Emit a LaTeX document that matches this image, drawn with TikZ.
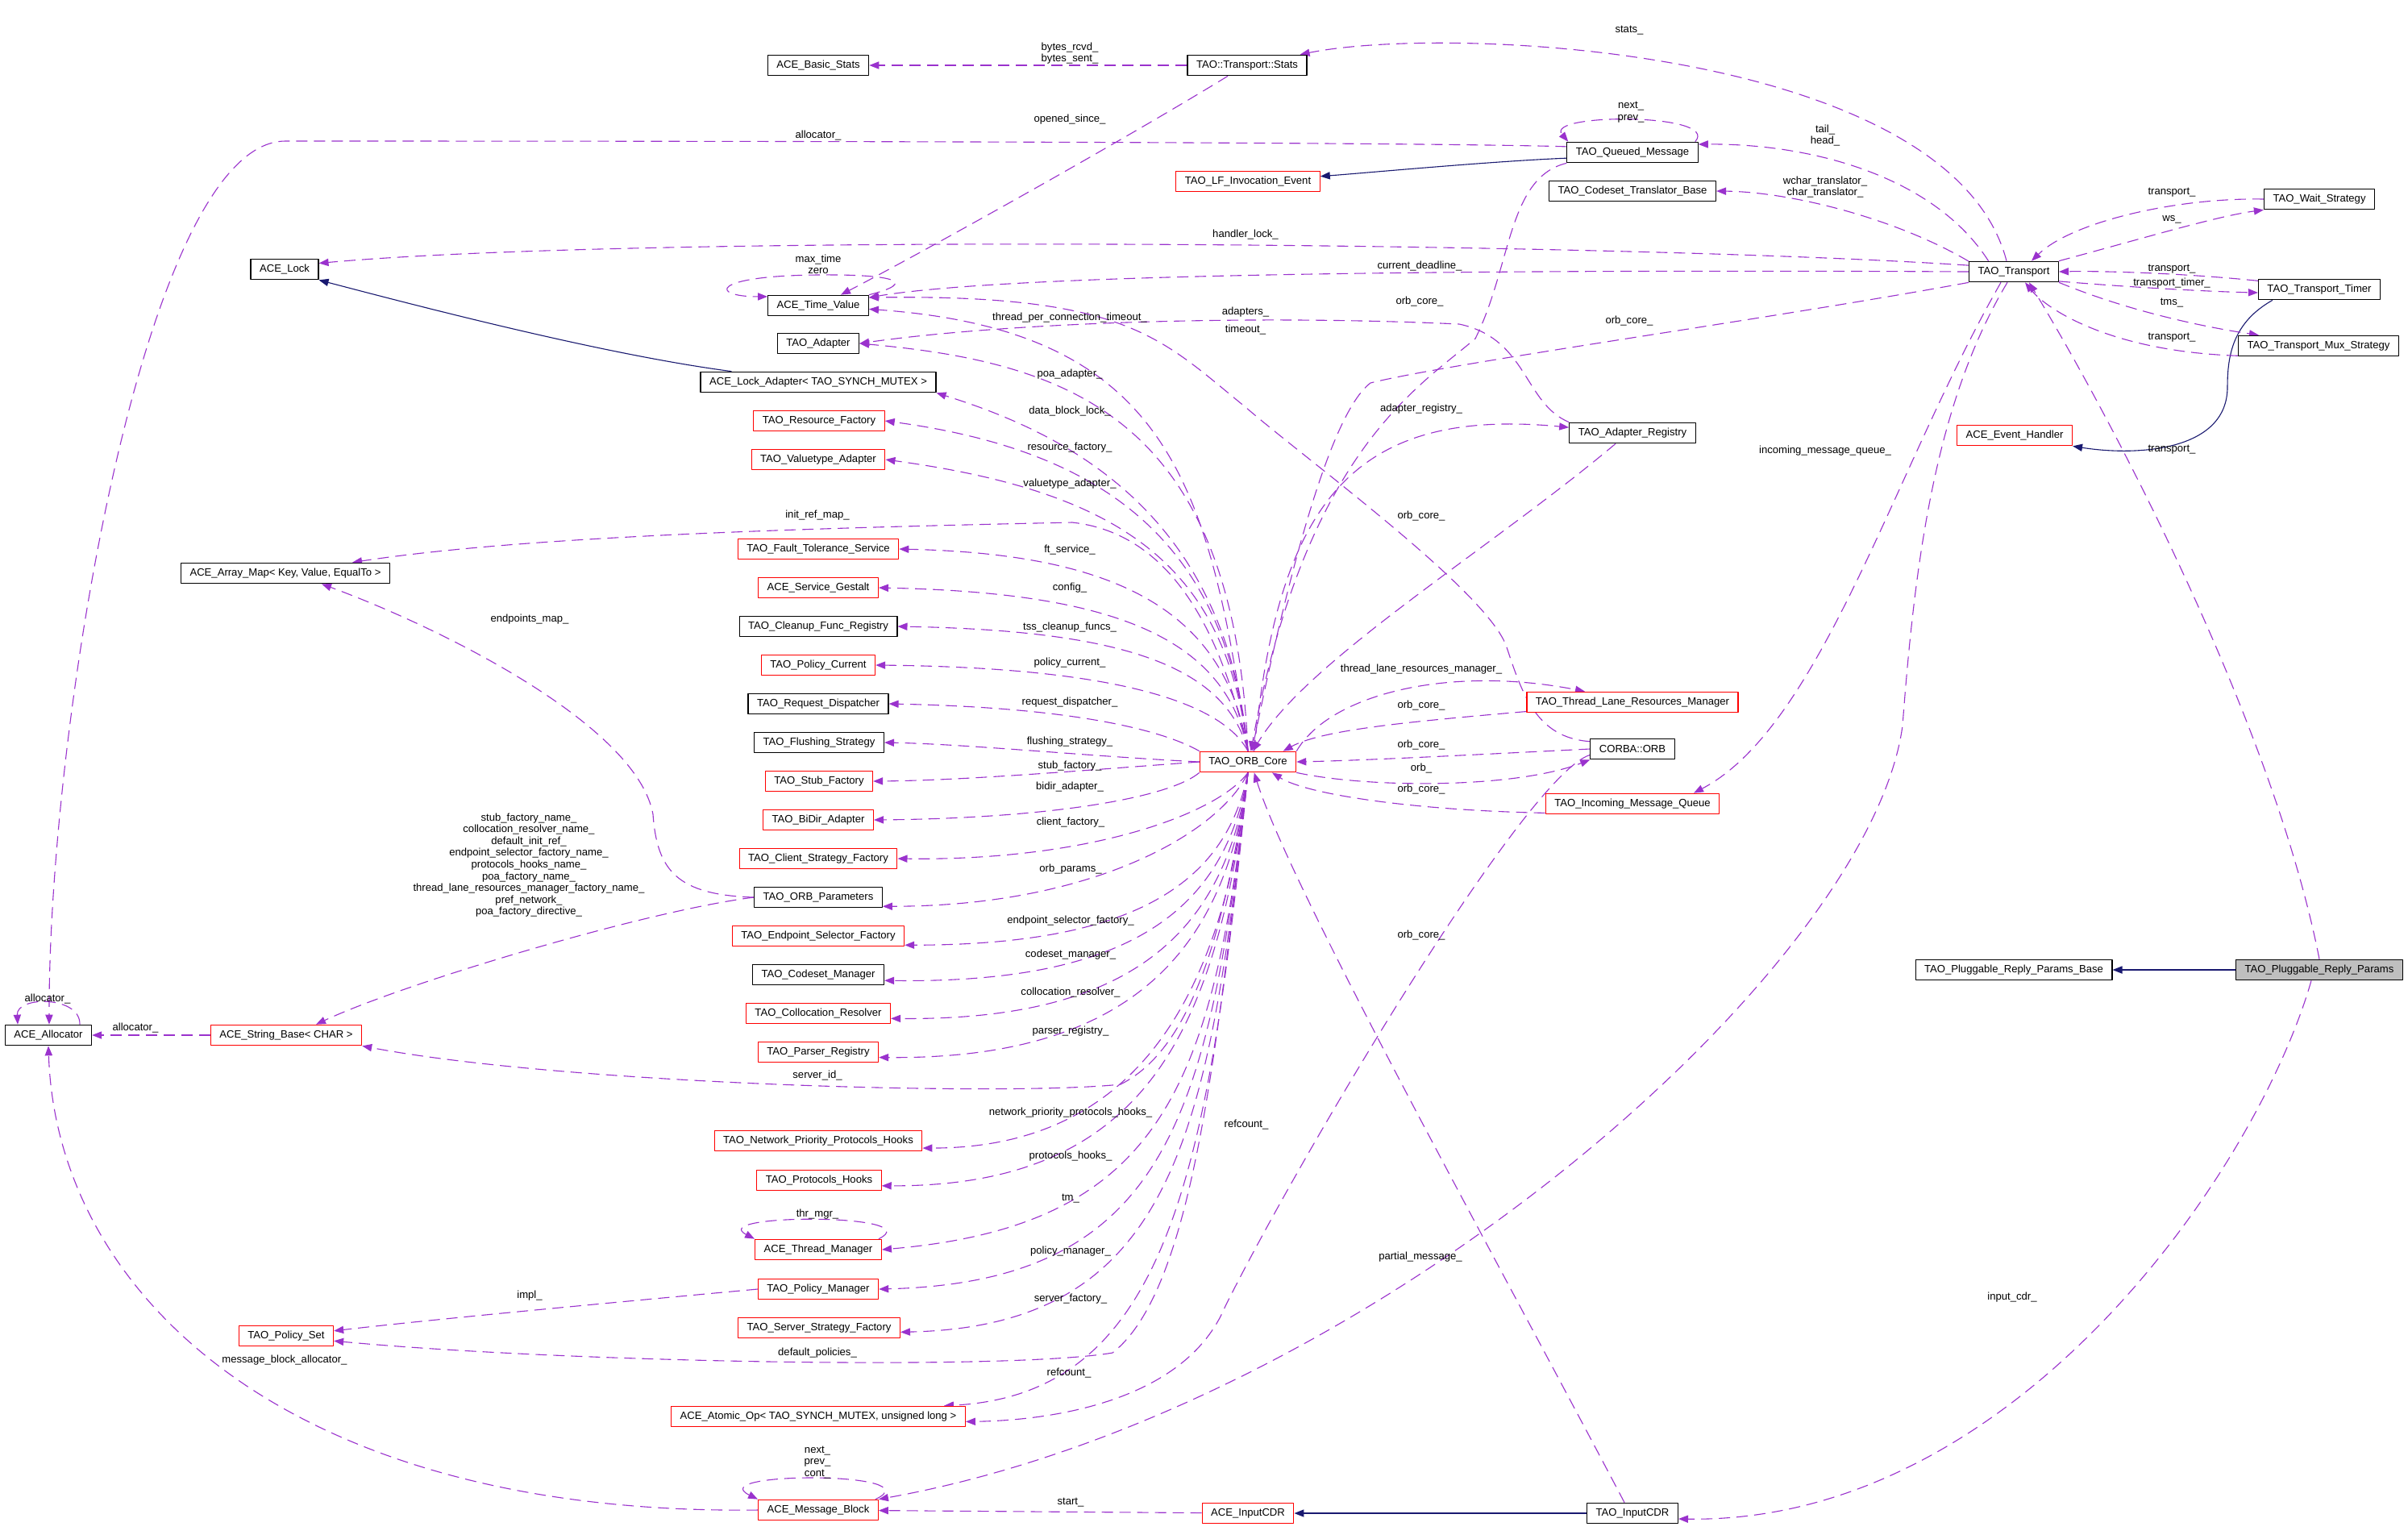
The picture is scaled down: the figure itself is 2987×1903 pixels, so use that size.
\documentclass[tikz,border=0pt]{standalone}
\usepackage{fontspec}
\setmainfont{Liberation Sans}
\usetikzlibrary{arrows.meta}
\pgfdeclarelayer{edges}
\pgfsetlayers{edges,main}
\definecolor{dxPurple}{HTML}{9A32CD}
\definecolor{dxNavy}{HTML}{191970}
\definecolor{dxRed}{HTML}{FF0000}
\definecolor{dxGray}{HTML}{BFBFBF}
\newcommand{\dxfont}{\fontsize{6.55}{7.3}\selectfont}
\tikzset{
 collab/.style={x=.5pt,y=-.5pt,line join=round},
 cls/.style={rectangle,draw=black,fill=white,line width=.6pt,font=\dxfont,inner xsep=5.5pt,inner ysep=0pt,minimum height=12.75pt},
 redcls/.style={cls,draw=dxRed},
 curcls/.style={cls,fill=dxGray},
 member/.style={draw=dxPurple,line width=.55pt,dash pattern=on 7pt off 4pt,-{Triangle[length=6pt,width=4.6pt]}},
 derive/.style={draw=dxNavy,line width=.55pt,-{Triangle[length=6pt,width=4.6pt]}},
 lbl/.style={font=\dxfont,inner sep=0pt,align=center}
}

\begin{document}
\begin{tikzpicture}[collab]
 \useasboundingbox (0,0) rectangle (2987,1903);
 % classes
 \node[cls] (basic) at (1015,81) {ACE\_Basic\_Stats};
 \node[cls] (stats) at (1547,81) {TAO::Transport::Stats};
 \node[cls] (queued) at (2025,189) {TAO\_Queued\_Message};
 \node[redcls] (lfinv) at (1548,225) {TAO\_LF\_Invocation\_Event};
 \node[cls] (transl) at (2025,237) {TAO\_Codeset\_Translator\_Base};
 \node[cls] (waits) at (2877,247) {TAO\_Wait\_Strategy};
 \node[cls] (lock) at (353,334) {ACE\_Lock};
 \node[cls] (transport) at (2498,337) {TAO\_Transport};
 \node[cls] (timer) at (2877,359) {TAO\_Transport\_Timer};
 \node[cls] (time) at (1015,379) {ACE\_Time\_Value};
 \node[cls] (adapter) at (1015,426) {TAO\_Adapter};
 \node[cls] (mux) at (2876,429) {TAO\_Transport\_Mux\_Strategy};
 \node[cls] (lockad) at (1015,474) {ACE\_Lock\_Adapter< TAO\_SYNCH\_MUTEX >};
 \node[redcls] (resfac) at (1016,522) {TAO\_Resource\_Factory};
 \node[cls] (regis) at (2025,537) {TAO\_Adapter\_Registry};
 \node[redcls] (evh) at (2499,540) {ACE\_Event\_Handler};
 \node[redcls] (valtype) at (1015,570) {TAO\_Valuetype\_Adapter};
 \node[redcls] (ftol) at (1015,681) {TAO\_Fault\_Tolerance\_Service};
 \node[cls] (arraymap) at (354,711) {ACE\_Array\_Map< Key, Value, EqualTo >};
 \node[redcls] (gestalt) at (1015,729) {ACE\_Service\_Gestalt};
 \node[cls] (cleanup) at (1015,777) {TAO\_Cleanup\_Func\_Registry};
 \node[redcls] (polcur) at (1015,825) {TAO\_Policy\_Current};
 \node[cls] (reqdisp) at (1015,873) {TAO\_Request\_Dispatcher};
 \node[redcls] (tlrm) at (2025,871) {TAO\_Thread\_Lane\_Resources\_Manager};
 \node[cls] (flush) at (1016,921) {TAO\_Flushing\_Strategy};
 \node[cls] (orb) at (2025,929) {CORBA::ORB};
 \node[redcls] (core) at (1548,945) {TAO\_ORB\_Core};
 \node[redcls] (stubfac) at (1016,969) {TAO\_Stub\_Factory};
 \node[redcls] (imq) at (2025,997) {TAO\_Incoming\_Message\_Queue};
 \node[redcls] (bidir) at (1015,1017) {TAO\_BiDir\_Adapter};
 \node[redcls] (client) at (1015,1065) {TAO\_Client\_Strategy\_Factory};
 \node[cls] (params) at (1015,1113) {TAO\_ORB\_Parameters};
 \node[redcls] (endsel) at (1015,1161) {TAO\_Endpoint\_Selector\_Factory};
 \node[cls] (replybase) at (2498,1203) {TAO\_Pluggable\_Reply\_Params\_Base};
 \node[curcls] (reply) at (2877,1203) {TAO\_Pluggable\_Reply\_Params};
 \node[cls] (codeset) at (1015,1209) {TAO\_Codeset\_Manager};
 \node[redcls] (colloc) at (1015,1257) {TAO\_Collocation\_Resolver};
 \node[cls] (alloc) at (60,1284) {ACE\_Allocator};
 \node[redcls] (strbase) at (355,1284) {ACE\_String\_Base< CHAR >};
 \node[redcls] (parser) at (1015,1305) {TAO\_Parser\_Registry};
 \node[redcls] (nethooks) at (1015,1415) {TAO\_Network\_Priority\_Protocols\_Hooks};
 \node[redcls] (prothooks) at (1016,1464) {TAO\_Protocols\_Hooks};
 \node[redcls] (thrmgr) at (1015,1550) {ACE\_Thread\_Manager};
 \node[redcls] (polman) at (1015,1599) {TAO\_Policy\_Manager};
 \node[redcls] (srvfac) at (1016,1647) {TAO\_Server\_Strategy\_Factory};
 \node[redcls] (polset) at (355,1657) {TAO\_Policy\_Set};
 \node[redcls] (atomic) at (1015,1757) {ACE\_Atomic\_Op< TAO\_SYNCH\_MUTEX, unsigned long >};
 \node[redcls] (msgblock) at (1015,1873) {ACE\_Message\_Block};
 \node[redcls] (aceinput) at (1548,1877) {ACE\_InputCDR};
 \node[cls] (inputcdr) at (2025,1877) {TAO\_InputCDR};

 \begin{pgfonlayer}{edges}
 \fill[white] (0,0) rectangle (2987,1903);
 % inheritance
 \draw[derive] ([xshift=19.5pt]lockad.north west) .. controls (750,440) and (520,380) .. (lock.south east);
 \draw[derive] (queued.-175) .. controls (1850,200) and (1700,214) .. (lfinv.4);
 \draw[derive] ([xshift=9pt]timer.south west) .. controls (2770,400) and (2763,440) .. (2763,480) .. controls (2763,560) and (2650,566) .. (evh.south east);
 \draw[derive] (reply) -- (replybase);
 \draw[derive] (inputcdr) -- (aceinput);

 % Transport::Stats and Queued_Message
 \draw[member] (stats) -- (basic);
 \draw[member] ([xshift=-12pt]stats.south) .. controls (1400,170) and (1150,310) .. ([xshift=14pt]time.north);
 \draw[member] ([xshift=-2pt]queued.north east) .. controls (2135,140) and (1915,140) .. ([xshift=1pt]queued.north west);
 \draw[member] (queued.175) .. controls (1700,175) and (600,175) .. (354,175) .. controls (180,175) and (60,900) .. ([xshift=.5pt]alloc.north);
 \draw[member] (queued.south west) .. controls (1870,220) and (1875,330) .. (1830,420) .. controls (1760,480) and (1620,560) .. (core.75);

 % TAO_Transport
 \draw[member] ([xshift=-4.5pt]transport.north) .. controls (2420,60) and (1800,30) .. ([xshift=-4.5pt]stats.north east);
 \draw[member] (transport.157) .. controls (2400,220) and (2250,178) .. (queued.7);
 \draw[member] (transport.167) .. controls (2350,270) and (2220,238) .. (transl.east);
 \draw[member] (transport.172) .. controls (2000,300) and (800,290) .. (lock.10);
 \draw[member] (transport.west) .. controls (1800,334) and (1250,340) .. (time.9);
 \draw[member] (transport.south west) .. controls (2200,395) and (1800,450) .. (1700,475) .. controls (1640,520) and (1580,800) .. (core.70);
 \draw[member] (transport.north east) .. controls (2650,298) and (2750,268) .. (waits.south west);
 \draw[member] (waits.west) .. controls (2700,245) and (2570,275) .. ([xshift=11pt]transport.north);
 \draw[member] (timer.172) .. controls (2700,338) and (2600,336) .. (transport.east);
 \draw[member] (transport.-12) .. controls (2650,357) and (2750,362) .. (timer.-177);
 \draw[member] (transport.south east) .. controls (2650,390) and (2750,408) .. ([xshift=13pt]mux.north west);
 \draw[member] (mux.-173) .. controls (2620,436) and (2540,385) .. ([xshift=7pt]transport.south);
 \draw[member] (reply.north) .. controls (2820,900) and (2620,520) .. ([xshift=9.5pt]transport.south);
 \draw[member] ([xshift=-8pt]transport.south) .. controls (2350,580) and (2260,900) .. ([xshift=38pt]imq.north);
 \draw[member] ([xshift=-4pt]transport.south) .. controls (2400,500) and (2375,700) .. (2360,900) .. controls (2320,1200) and (1700,1750) .. (msgblock.north east);
 \draw[member] ([xshift=-5pt]reply.south) .. controls (2800,1450) and (2500,1890) .. (inputcdr.-7);

 % ACE_Time_Value, adapters, ORB
 \draw[member] (time.north east) .. controls (1140,350) and (1110,340) .. (1015,341) .. controls (880,342) and (880,368) .. (time.170);
 \draw[member] (orb.170) .. controls (1905,915) and (1888,860) .. (1868,800) .. controls (1840,730) and (1620,570) .. (1545,505) .. controls (1440,420) and (1400,365) .. (time.9);
 \draw[member] (regis.north west) .. controls (1890,500) and (1895,420) .. (1810,402) .. controls (1550,390) and (1250,400) .. (adapter.east);
 \draw[member] ([xshift=-10.5pt]regis.south) .. controls (1850,680) and (1620,820) .. (core.65);
 \draw[member] (core.60) .. controls (1585,620) and (1680,505) .. (regis.175);
 \draw[member] (core.north east) .. controls (1650,860) and (1800,825) .. ([xshift=-29.5pt]tlrm.north);
 \draw[member] (tlrm.-175) .. controls (1750,895) and (1640,905) .. (core.17);
 \draw[member] (orb.west) .. controls (1850,935) and (1700,943) .. (core.east);
 \draw[member] (core.south east) .. controls (1700,978) and (1880,978) .. (orb.south west);
 \draw[member] (imq.-174) .. controls (1750,1005) and (1620,985) .. (core.-24);
 \draw[member] ([xshift=-5pt]inputcdr.north) .. controls (1850,1550) and (1600,1100) .. (core.-60);
 \draw[member] (orb.-172) .. controls (1895,960) and (1620,1420) .. (1520,1620) .. controls (1470,1740) and (1300,1762) .. (atomic.-2);

 % TAO_ORB_Core to the left column
 \draw[member] (core.north) .. controls (1500,600) and (1450,410) .. (time.-4);
 \draw[member] (core.north) .. controls (1530,520) and (1330,450) .. (adapter.east);
 \draw[member] (core.north) .. controls (1520,640) and (1330,540) .. (lockad.south east);
 \draw[member] (core.north) .. controls (1520,680) and (1380,560) .. (resfac.east);
 \draw[member] (core.north) .. controls (1520,700) and (1390,610) .. (valtype.east);
 \draw[member] (core.north) .. controls (1510,760) and (1440,660) .. (1330,648) .. controls (1000,655) and (650,665) .. ([xshift=-23.5pt]arraymap.north east);
 \draw[member] (core.north) .. controls (1520,760) and (1390,687) .. (ftol.east);
 \draw[member] (core.north) .. controls (1520,790) and (1380,735) .. (gestalt.east);
 \draw[member] (core.north) .. controls (1520,825) and (1390,782) .. (cleanup.east);
 \draw[member] (core.north) .. controls (1515,870) and (1380,828) .. (polcur.east);
 \draw[member] (core.north west) .. controls (1450,910) and (1350,878) .. (reqdisp.east);
 \draw[member] (core.west) .. controls (1350,938) and (1200,923) .. (flush.east);
 \draw[member] (core.west) .. controls (1350,955) and (1200,968) .. (stubfac.east);
 \draw[member] (core.south west) .. controls (1450,990) and (1300,1015) .. (bidir.east);
 \draw[member] (core.south) .. controls (1510,1010) and (1350,1068) .. (client.east);
 \draw[member] (core.south) .. controls (1515,1030) and (1360,1124) .. (params.-8);
 \draw[member] (core.south) .. controls (1520,1100) and (1400,1172) .. (endsel.-6);
 \draw[member] (core.south) .. controls (1520,1130) and (1400,1220) .. (codeset.-5);
 \draw[member] (core.south) .. controls (1520,1160) and (1400,1266) .. (colloc.-4);
 \draw[member] (core.south) .. controls (1520,1190) and (1390,1314) .. (parser.-5);
 \draw[member] (core.south) .. controls (1520,1150) and (1480,1300) .. (1390,1345) .. controls (1250,1360) and (700,1345) .. (strbase.south east);
 \draw[member] (core.south) .. controls (1515,1250) and (1400,1424) .. (nethooks.-4);
 \draw[member] (core.south) .. controls (1510,1280) and (1420,1472) .. (prothooks.-5);
 \draw[member] (core.south) .. controls (1505,1350) and (1440,1520) .. (thrmgr.east);
 \draw[member] (core.south) .. controls (1500,1380) and (1450,1590) .. (polman.east);
 \draw[member] (core.south) .. controls (1500,1400) and (1460,1645) .. (srvfac.-3);
 \draw[member] (core.south) .. controls (1510,1300) and (1480,1600) .. (1380,1678) .. controls (1250,1700) and (700,1690) .. (polset.-6);
 \draw[member] (core.south) .. controls (1500,1450) and (1450,1730) .. ([xshift=-13.5pt]atomic.north east);

 % left part
 \draw[member] ([xshift=-2pt]thrmgr.north east) .. controls (1155,1505) and (875,1505) .. (thrmgr.north west);
 \draw[member] ([xshift=-2pt]msgblock.north east) .. controls (1160,1825) and (870,1825) .. (msgblock.north west);
 \draw[member] (aceinput) -- (msgblock);
 \draw[member] (msgblock.west) .. controls (350,1880) and (70,1600) .. (alloc.south);
 \draw[member] (strbase) -- (alloc);
 \draw[member] ([xshift=19.5pt]alloc.north) .. controls (100,1235) and (20,1235) .. ([xshift=-19pt]alloc.north);
 \draw[member] (params.west) .. controls (840,1110) and (815,1080) .. (810,1010) .. controls (790,900) and (550,780) .. ([xshift=22.5pt]arraymap.south);
 \draw[member] (params.west) .. controls (800,1130) and (500,1220) .. ([xshift=18.5pt]strbase.north);
 \draw[member] (polman.west) .. controls (800,1612) and (550,1635) .. (polset.6);
 \end{pgfonlayer}

 % member names
 \foreach \x/\y/\t [count=\i] in {
  1327/66/{bytes\_rcvd\_\\bytes\_sent\_}, 2021/38/stats\_, 1327/148/opened\_since\_,
  1015/168/allocator\_, 2023/139/{next\_\\prev\_}, 2264/168/{tail\_\\head\_},
  2264/232/{wchar\_translator\_\\char\_translator\_}, 2694/239/transport\_, 2694/272/ws\_,
  1545/291/handler\_lock\_, 1015/328/{max\_time\\zero}, 1761/330/current\_deadline\_,
  2694/334/transport\_, 2694/351/transport\_timer\_, 2694/376/tms\_, 1761/374/orb\_core\_,
  1327/394/thread\_per\_connection\_timeout\_, 1545/387/adapters\_, 2021/398/orb\_core\_,
  1545/409/timeout\_, 2694/419/transport\_, 1327/464/poa\_adapter\_,
  1763/507/adapter\_registry\_, 1327/510/data\_block\_lock\_, 1327/555/resource\_factory\_,
  2694/558/transport\_, 2264/559/incoming\_message\_queue\_, 1327/600/valuetype\_adapter\_,
  1014/639/init\_ref\_map\_, 1763/640/orb\_core\_, 1327/682/ft\_service\_, 1327/729/config\_,
  657/768/endpoints\_map\_, 1327/778/tss\_cleanup\_funcs\_, 1327/822/policy\_current\_,
  1763/830/thread\_lane\_resources\_manager\_, 1327/871/request\_dispatcher\_,
  1763/875/orb\_core\_, 1327/920/flushing\_strategy\_, 1763/924/orb\_core\_,
  1327/950/stub\_factory\_, 1763/953/orb\_, 1327/976/bidir\_adapter\_, 1763/979/orb\_core\_,
  1328/1020/client\_factory\_,
  656/1073/{stub\_factory\_name\_\\collocation\_resolver\_name\_\\default\_init\_ref\_\\endpoint\_selector\_factory\_name\_\\protocols\_hooks\_name\_\\poa\_factory\_name\_\\thread\_lane\_resources\_manager\_factory\_name\_\\pref\_network\_\\poa\_factory\_directive\_},
  1328/1078/orb\_params\_, 1328/1142/endpoint\_selector\_factory\_, 1763/1160/orb\_core\_,
  1328/1184/codeset\_manager\_, 1328/1231/collocation\_resolver\_, 59/1239/allocator\_,
  168/1275/allocator\_, 1328/1279/parser\_registry\_, 1014/1334/server\_id\_,
  1328/1380/network\_priority\_protocols\_hooks\_, 1546/1395/refcount\_,
  1328/1434/protocols\_hooks\_, 1328/1487/tm\_, 1014/1506/thr\_mgr\_,
  1328/1552/policy\_manager\_, 1762/1559/partial\_message\_, 657/1607/impl\_,
  2496/1609/input\_cdr\_, 1328/1611/server\_factory\_, 1014/1678/default\_policies\_,
  353/1687/message\_block\_allocator\_, 1326/1703/refcount\_,
  1014/1814/{next\_\\prev\_\\cont\_}, 1328/1864/start\_}
  \node[lbl] (name\i) at (\x,\y) {\t};
\end{tikzpicture}
\end{document}
